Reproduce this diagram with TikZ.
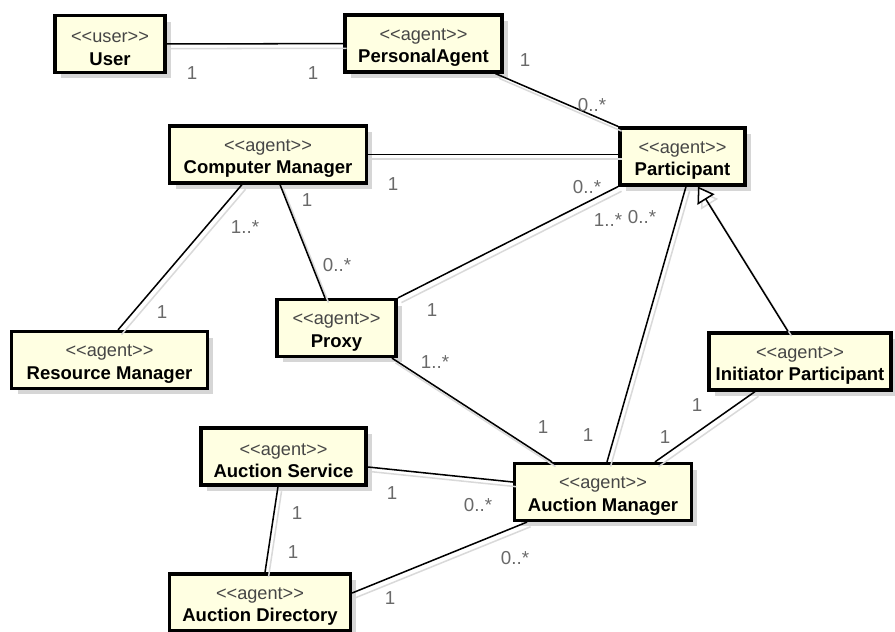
\documentclass[tikz,border=0pt]{standalone}
\usepackage{fontspec}
\setmainfont{Liberation Sans}
\usetikzlibrary{arrows.meta, shadows}
\definecolor{agentfill}{RGB}{255,255,226}
\definecolor{shadowgray}{RGB}{214,214,214}
\definecolor{multgray}{RGB}{105,105,105}
\definecolor{stereogray}{RGB}{70,70,70}
\newcommand{\stereo}[1]{{\normalfont\fontsize{15.5}{17}\selectfont\color{stereogray}\rule{0pt}{17pt}<\kern0pt<#1>\kern0pt>}}
\tikzset{agent/.style={draw, line width=3pt, fill=agentfill, align=center, inner sep=0pt,
           minimum height=1.7cm, font=\fontsize{15.8}{19}\selectfont\bfseries,
           general shadow={fill=shadowgray, shadow xshift=5pt, shadow yshift=-5pt}},
         link/.style={line width=1.3pt,
           preaction={draw=gray!30, line width=1.3pt, transform canvas={xshift=3pt, yshift=-4pt}}},
         mult/.style={text=multgray, font=\fontsize{16}{18}\selectfont, inner sep=0pt}}
\begin{document}
\begin{tikzpicture}[x=0.03cm, y=-0.03cm]

        \useasboundingbox (0,0) rectangle (895,631);

        % Agents
        \node[agent, minimum width=3.3cm] (user) at (110,44) {\stereo{user}\\User};
        \node[agent, minimum width=4.72cm] (pa) at (423.5,43.5) {\stereo{agent}\\PersonalAgent};
        \node[agent, minimum width=5.9cm] (cm) at (268,154.5) {\stereo{agent}\\Computer Manager};
        \node[agent, minimum width=3.76cm] (part) at (682.5,156.5) {\stereo{agent}\\Participant};
        \node[agent, minimum width=5.87cm] (rm) at (109.5,360) {\stereo{agent}\\Resource Manager};
        \node[agent, minimum width=3.58cm] (proxy) at (336.5,328) {\stereo{agent}\\Proxy};
        \node[agent, minimum width=5.47cm] (init) at (800,361.5) {\stereo{agent}\\Initiator Participant};
        \node[agent, minimum width=4.96cm] (as) at (283.5,456.5) {\stereo{agent}\\Auction Service};
        \node[agent, minimum width=5.3cm] (am) at (603,492) {\stereo{agent}\\Auction Manager};
        \node[agent, minimum width=5.42cm] (ad) at (260,602.5) {\stereo{agent}\\Auction Directory};

        % Associations
        \draw[link] (user) -- (pa);
        \draw[link] ([shift={(72,0)}]pa.south) -- (part.north west);
        \draw[link] (cm.east) -- (cm.east -| part.west);
        \draw[link] ([shift={(-26,0)}]cm.south) -- ([shift={(8.5,0)}]rm.north);
        \draw[link] ([shift={(12,0)}]cm.south) -- ([shift={(-11.5,0)}]proxy.north);
        \draw[link] (proxy.north east) -- (part.south west);
        \draw[link] ([shift={(-6,0)}]proxy.south east) -- ([shift={(-51,0)}]am.north);
        \draw[link] ([shift={(3.5,0)}]part.south) -- ([shift={(4,0)}]am.north);
        \draw[link] ([shift={(-45,0)}]init.south) -- ([shift={(52,0)}]am.north);
        \draw[link] ([shift={(0,10.5)}]as.east) -- ([shift={(0,-10)}]am.west);
        \draw[link] ([shift={(-5.5,0)}]as.south) -- ([shift={(5,0)}]ad.north);
        \draw[link] ([shift={(0,-9.5)}]ad.east) -- ([shift={(-76,0)}]am.south);

        % Generalization
        \draw[link, -{Triangle[fill=white, length=13pt, width=17pt, line width=1.3pt]}]
            ([shift={(-12,0)}]init.north) -- ([shift={(15.5,0)}]part.south);

        % Multiplicities
        \node[mult] (m1) at (192,73) {1};
        \node[mult] (m2) at (313,73) {1};
        \node[mult] (m3) at (525,60) {1};
        \node[mult] (m4) at (592,105) {0..*};
        \node[mult] (m5) at (393,184) {1};
        \node[mult] (m6) at (587,187) {0..*};
        \node[mult] (m7) at (245,227) {1..*};
        \node[mult] (m8) at (162,312) {1};
        \node[mult] (m9) at (307,200) {1};
        \node[mult] (m10) at (337,265) {0..*};
        \node[mult] (m11) at (432,310) {1};
        \node[mult] (m12) at (608,220) {1..*};
        \node[mult] (m13) at (642,217) {0..*};
        \node[mult] (m14) at (588,435) {1};
        \node[mult] (m15) at (435,362) {1..*};
        \node[mult] (m16) at (543,427) {1};
        \node[mult] (m17) at (697,405) {1};
        \node[mult] (m18) at (665,437) {1};
        \node[mult] (m19) at (392,493) {1};
        \node[mult] (m20) at (478,505) {0..*};
        \node[mult] (m21) at (297,513) {1};
        \node[mult] (m22) at (293,552) {1};
        \node[mult] (m23) at (515,558) {0..*};
        \node[mult] (m24) at (390,598) {1};

\end{tikzpicture}
\end{document}
